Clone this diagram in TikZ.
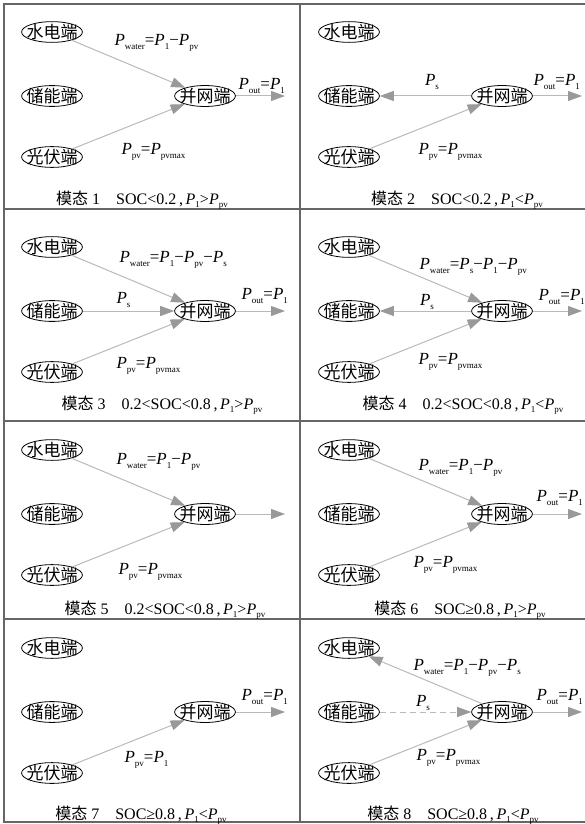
\documentclass[tikz,border=0pt]{standalone}
\usepackage{fontspec}
\setmainfont{Liberation Serif}
\newfontfamily\cjk{Noto Sans CJK SC}
\usetikzlibrary{arrows.meta,shapes.geometric}
\newcommand{\Pv}[1]{\textit{P}\raisebox{-0.45ex}{\fontsize{9}{9}\selectfont#1}}

\begin{document}
\begin{tikzpicture}[x=1pt, y=-1pt,
	every node/.style={font=\fontsize{17}{17}\selectfont},
	port/.style={draw, ellipse, line width=0.8pt, inner xsep=-4pt, inner ysep=-0.5pt, font=\cjk\fontsize{17}{17}\selectfont},
	flow/.style={draw=gray!55, line width=1pt, -{Triangle[length=14pt, width=10pt, color=gray!80, fill=gray!80]}},
	modetext/.style={font=\fontsize{16}{16}\selectfont}]
	\useasboundingbox (0,0) rectangle (585,824);
	% frame of the eight panels
	\draw[line width=1.5pt, black!60] (585,4) -- (4,4) -- (4,822) -- (585,822);
	\draw[line width=1.5pt, black!60] (300,4) -- (300,822);
	\foreach \y in {209,421,619} \draw[line width=1.5pt, black!60] (4,\y) -- (585,\y);
	% terminals: panel / x of left column / y of top row
	\foreach \n/\x/\y in {1/52/32, 2/349/32, 3/52/247, 4/349/247, 5/52/450, 6/349/450, 7/52/648, 8/349/648} {
		\node[port] (s\n) at (\x,\y) {水电端};
		\node[port] (c\n) at (\x,\y+64) {储能端};
		\node[port] (g\n) at (\x,\y+125) {光伏端};
		\node[port] (b\n) at (\x+153,\y+64) {并网端};
		\coordinate (o\n) at (\x+233,\y+64);
	}
	% captions
	\node[modetext] (m1) at (142,200) {{\cjk 模态} 1\quad SOC<0.2\,,\,\Pv{1}>\Pv{pv}};
	\node[modetext] (m2) at (457,200) {{\cjk 模态} 2\quad SOC<0.2\,,\,\Pv{1}<\Pv{pv}};
	\node[modetext] (m3) at (162,405) {{\cjk 模态} 3\quad 0.2<SOC<0.8\,,\,\Pv{1}>\Pv{pv}};
	\node[modetext] (m4) at (463,405) {{\cjk 模态} 4\quad 0.2<SOC<0.8\,,\,\Pv{1}<\Pv{pv}};
	\node[modetext] (m5) at (165,610) {{\cjk 模态} 5\quad 0.2<SOC<0.8\,,\,\Pv{1}>\Pv{pv}};
	\node[modetext] (m6) at (460,610) {{\cjk 模态} 6\quad SOC≥0.8\,,\,\Pv{1}>\Pv{pv}};
	\node[modetext] (m7) at (141,815) {{\cjk 模态} 7\quad SOC≥0.8\,,\,\Pv{1}<\Pv{pv}};
	\node[modetext] (m8) at (453,815) {{\cjk 模态} 8\quad SOC≥0.8\,,\,\Pv{1}<\Pv{pv}};
	% mode 1
	\draw[flow] (s1) -- (b1);
	\draw[flow] (g1) -- (b1);
	\draw[flow] (b1) -- (o1);
	\node[anchor=west] (lw1) at (111,43) {\Pv{water}=\Pv{1}−\Pv{pv}};
	\node[anchor=west] (lv1) at (118,152) {\Pv{pv}=\Pv{pvmax}};
	\node[anchor=west] (lo1) at (235,86) {\Pv{out}=\Pv{1}};
	% mode 2
	\draw[flow] (b2) -- (c2);
	\draw[flow] (g2) -- (b2);
	\draw[flow] (b2) -- (o2);
	\node (ls2) at (432,82) {\Pv{s}};
	\node[anchor=west] (lv2) at (415,152) {\Pv{pv}=\Pv{pvmax}};
	\node[anchor=west] (lo2) at (530,82) {\Pv{out}=\Pv{1}};
	% mode 3
	\draw[flow] (s3) -- (b3);
	\draw[flow] (c3) -- (b3);
	\draw[flow] (g3) -- (b3);
	\draw[flow] (b3) -- (o3);
	\node[anchor=west] (lw3) at (116,260) {\Pv{water}=\Pv{1}−\Pv{pv}−\Pv{s}};
	\node[anchor=west] (ls3) at (113,300) {\Pv{s}};
	\node[anchor=west] (lv3) at (113,366) {\Pv{pv}=\Pv{pvmax}};
	\node[anchor=west] (lo3) at (238,296) {\Pv{out}=\Pv{1}};
	% mode 4
	\draw[flow] (s4) -- (b4);
	\draw[flow] (b4) -- (c4);
	\draw[flow] (g4) -- (b4);
	\draw[flow] (b4) -- (o4);
	\node[anchor=west] (lw4) at (416,267) {\Pv{water}=\Pv{s}−\Pv{1}−\Pv{pv}};
	\node (ls4) at (427,302) {\Pv{s}};
	\node[anchor=west] (lv4) at (415,362) {\Pv{pv}=\Pv{pvmax}};
	\node[anchor=west] (lo4) at (535,297) {\Pv{out}=\Pv{1}};
	% mode 5
	\draw[flow] (s5) -- (b5);
	\draw[flow] (g5) -- (b5);
	\draw[flow] (b5) -- (o5);
	\node[anchor=west] (lw5) at (113,462) {\Pv{water}=\Pv{1}−\Pv{pv}};
	\node[anchor=west] (lv5) at (115,572) {\Pv{pv}=\Pv{pvmax}};
	% mode 6
	\draw[flow] (s6) -- (b6);
	\draw[flow] (g6) -- (b6);
	\draw[flow] (b6) -- (o6);
	\node[anchor=west] (lw6) at (415,468) {\Pv{water}=\Pv{1}−\Pv{pv}};
	\node[anchor=west] (lv6) at (410,565) {\Pv{pv}=\Pv{pvmax}};
	\node[anchor=west] (lo6) at (533,498) {\Pv{out}=\Pv{1}};
	% mode 7
	\draw[flow] (g7) -- (b7);
	\draw[flow] (b7) -- (o7);
	\node[anchor=west] (lv7) at (121,760) {\Pv{pv}=\Pv{1}};
	\node[anchor=west] (lo7) at (238,697) {\Pv{out}=\Pv{1}};
	% mode 8
	\draw[flow] (b8) -- (s8);
	\draw[flow, dashed, dash pattern=on 6pt off 4pt] (c8) -- (b8);
	\draw[flow] (g8) -- (b8);
	\draw[flow] (b8) -- (o8);
	\node[anchor=west] (lw8) at (410,668) {\Pv{water}=\Pv{1}−\Pv{pv}−\Pv{s}};
	\node (ls8) at (423,703) {\Pv{s}};
	\node[anchor=west] (lv8) at (413,758) {\Pv{pv}=\Pv{pvmax}};
	\node[anchor=west] (lo8) at (533,697) {\Pv{out}=\Pv{1}};
\end{tikzpicture}
\end{document}
